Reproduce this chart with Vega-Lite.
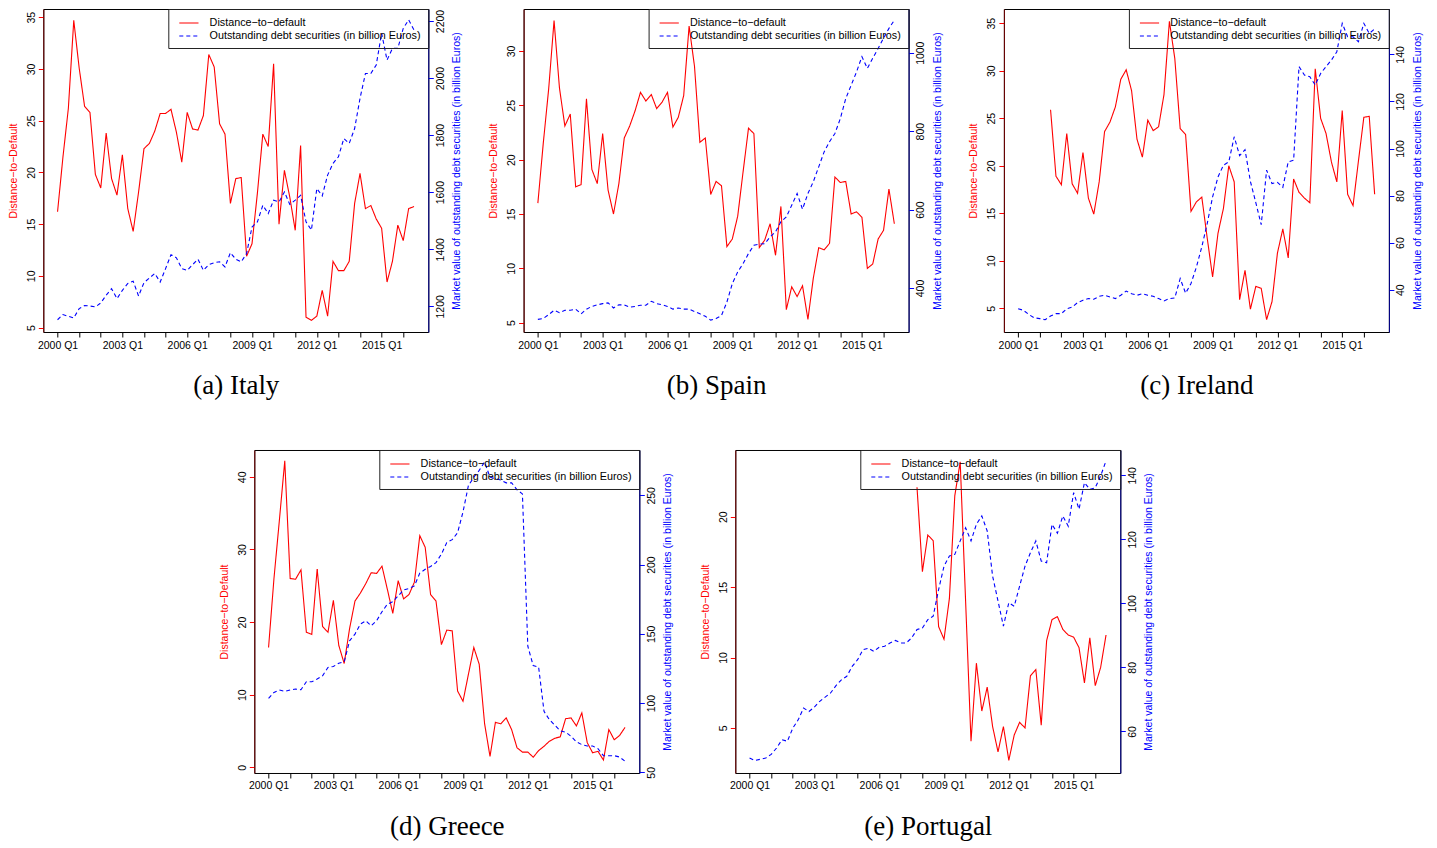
{
  "$schema": "https://vega.github.io/schema/vega-lite/v6.json",
  "padding": {"left": 7.3, "top": 8, "right": 5, "bottom": 5},
  "datasets": {
    "d": [
      {"c":"I","i":0,"d":16.2,"m":1153},{"c":"I","i":1,"d":21.5,"m":1171},{"c":"I","i":2,"d":26.2,"m":1165},{"c":"I","i":3,"d":34.7,"m":1159},{"c":"I","i":4,"d":30.1,"m":1192},{"c":"I","i":5,"d":26.4,"m":1203},{"c":"I","i":6,"d":25.8,"m":1201},{"c":"I","i":7,"d":19.8,"m":1198},{"c":"I","i":8,"d":18.5,"m":1212},{"c":"I","i":9,"d":23.8,"m":1239},{"c":"I","i":10,"d":19.4,"m":1262},{"c":"I","i":11,"d":17.8,"m":1227},{"c":"I","i":12,"d":21.7,"m":1256},{"c":"I","i":13,"d":16.5,"m":1280},{"c":"I","i":14,"d":14.3,"m":1288},{"c":"I","i":15,"d":18.1,"m":1236},{"c":"I","i":16,"d":22.3,"m":1283},{"c":"I","i":17,"d":22.8,"m":1299},{"c":"I","i":18,"d":24.0,"m":1315},{"c":"I","i":19,"d":25.7,"m":1285},{"c":"I","i":20,"d":25.7,"m":1332},{"c":"I","i":21,"d":26.1,"m":1381},{"c":"I","i":22,"d":23.9,"m":1370},{"c":"I","i":23,"d":21.0,"m":1332},{"c":"I","i":24,"d":25.8,"m":1326},{"c":"I","i":25,"d":24.2,"m":1346},{"c":"I","i":26,"d":24.1,"m":1365},{"c":"I","i":27,"d":25.5,"m":1326},{"c":"I","i":28,"d":31.4,"m":1346},{"c":"I","i":29,"d":30.2,"m":1353},{"c":"I","i":30,"d":24.7,"m":1356},{"c":"I","i":31,"d":23.7,"m":1338},{"c":"I","i":32,"d":17.0,"m":1388},{"c":"I","i":33,"d":19.4,"m":1365},{"c":"I","i":34,"d":19.5,"m":1356},{"c":"I","i":35,"d":11.9,"m":1385},{"c":"I","i":36,"d":13.1,"m":1478},{"c":"I","i":37,"d":18.0,"m":1496},{"c":"I","i":38,"d":23.7,"m":1554},{"c":"I","i":39,"d":22.5,"m":1525},{"c":"I","i":40,"d":30.5,"m":1572},{"c":"I","i":41,"d":15.0,"m":1566},{"c":"I","i":42,"d":20.2,"m":1601},{"c":"I","i":43,"d":17.6,"m":1557},{"c":"I","i":44,"d":14.4,"m":1572},{"c":"I","i":45,"d":22.6,"m":1589},{"c":"I","i":46,"d":6.0,"m":1496},{"c":"I","i":47,"d":5.7,"m":1467},{"c":"I","i":48,"d":6.1,"m":1613},{"c":"I","i":49,"d":8.6,"m":1587},{"c":"I","i":50,"d":6.1,"m":1660},{"c":"I","i":51,"d":11.4,"m":1701},{"c":"I","i":52,"d":10.5,"m":1724},{"c":"I","i":53,"d":10.5,"m":1788},{"c":"I","i":54,"d":11.4,"m":1771},{"c":"I","i":55,"d":17.0,"m":1823},{"c":"I","i":56,"d":19.9,"m":1929},{"c":"I","i":57,"d":16.5,"m":2016},{"c":"I","i":58,"d":16.8,"m":2016},{"c":"I","i":59,"d":15.5,"m":2046},{"c":"I","i":60,"d":14.6,"m":2157},{"c":"I","i":61,"d":9.4,"m":2063},{"c":"I","i":62,"d":11.4,"m":2104},{"c":"I","i":63,"d":14.9,"m":2104},{"c":"I","i":64,"d":13.4,"m":2174},{"c":"I","i":65,"d":16.5,"m":2204},{"c":"I","i":66,"d":16.7,"m":2168},
      {"c":"S","i":0,"d":16.0,"m":320},{"c":"S","i":1,"d":21.5,"m":322},{"c":"S","i":2,"d":26.5,"m":332},{"c":"S","i":3,"d":32.8,"m":343},{"c":"S","i":4,"d":26.6,"m":337},{"c":"S","i":5,"d":23.1,"m":343},{"c":"S","i":6,"d":24.2,"m":343},{"c":"S","i":7,"d":17.5,"m":346},{"c":"S","i":8,"d":17.7,"m":334},{"c":"S","i":9,"d":25.6,"m":346},{"c":"S","i":10,"d":19.1,"m":353},{"c":"S","i":11,"d":17.8,"m":357},{"c":"S","i":12,"d":22.4,"m":360},{"c":"S","i":13,"d":17.2,"m":362},{"c":"S","i":14,"d":15.0,"m":349},{"c":"S","i":15,"d":17.8,"m":357},{"c":"S","i":16,"d":22.0,"m":357},{"c":"S","i":17,"d":23.1,"m":351},{"c":"S","i":18,"d":24.5,"m":353},{"c":"S","i":19,"d":26.2,"m":356},{"c":"S","i":20,"d":25.4,"m":356},{"c":"S","i":21,"d":26.0,"m":366},{"c":"S","i":22,"d":24.7,"m":360},{"c":"S","i":23,"d":25.3,"m":357},{"c":"S","i":24,"d":26.2,"m":353},{"c":"S","i":25,"d":23.0,"m":346},{"c":"S","i":26,"d":23.9,"m":349},{"c":"S","i":27,"d":25.9,"m":346},{"c":"S","i":28,"d":32.3,"m":346},{"c":"S","i":29,"d":28.6,"m":340},{"c":"S","i":30,"d":21.6,"m":334},{"c":"S","i":31,"d":22.0,"m":328},{"c":"S","i":32,"d":16.8,"m":318},{"c":"S","i":33,"d":18.0,"m":322},{"c":"S","i":34,"d":17.6,"m":330},{"c":"S","i":35,"d":12.0,"m":364},{"c":"S","i":36,"d":12.7,"m":411},{"c":"S","i":37,"d":14.8,"m":441},{"c":"S","i":38,"d":18.9,"m":462},{"c":"S","i":39,"d":22.9,"m":488},{"c":"S","i":40,"d":22.4,"m":509},{"c":"S","i":41,"d":11.9,"m":512},{"c":"S","i":42,"d":12.6,"m":513},{"c":"S","i":43,"d":14.1,"m":530},{"c":"S","i":44,"d":11.2,"m":543},{"c":"S","i":45,"d":15.7,"m":569},{"c":"S","i":46,"d":6.2,"m":581},{"c":"S","i":47,"d":8.3,"m":611},{"c":"S","i":48,"d":7.4,"m":641},{"c":"S","i":49,"d":8.4,"m":601},{"c":"S","i":50,"d":5.3,"m":641},{"c":"S","i":51,"d":9.1,"m":671},{"c":"S","i":52,"d":11.9,"m":709},{"c":"S","i":53,"d":11.7,"m":747},{"c":"S","i":54,"d":12.3,"m":773},{"c":"S","i":55,"d":18.4,"m":794},{"c":"S","i":56,"d":17.9,"m":832},{"c":"S","i":57,"d":18.0,"m":883},{"c":"S","i":58,"d":15.0,"m":917},{"c":"S","i":59,"d":15.2,"m":951},{"c":"S","i":60,"d":14.7,"m":990},{"c":"S","i":61,"d":10.0,"m":960},{"c":"S","i":62,"d":10.4,"m":986},{"c":"S","i":63,"d":12.7,"m":1011},{"c":"S","i":64,"d":13.5,"m":1037},{"c":"S","i":65,"d":17.3,"m":1062},{"c":"S","i":66,"d":14.1,"m":1083},
      {"c":"R","i":0,"d":null,"m":31.9},{"c":"R","i":1,"d":null,"m":31.2},{"c":"R","i":2,"d":null,"m":29.4},{"c":"R","i":3,"d":null,"m":28.0},{"c":"R","i":4,"d":null,"m":27.7},{"c":"R","i":5,"d":null,"m":27.2},{"c":"R","i":6,"d":25.9,"m":28.8},{"c":"R","i":7,"d":18.9,"m":29.8},{"c":"R","i":8,"d":18.0,"m":29.8},{"c":"R","i":9,"d":23.4,"m":31.9},{"c":"R","i":10,"d":18.1,"m":32.6},{"c":"R","i":11,"d":17.1,"m":34.5},{"c":"R","i":12,"d":21.4,"m":35.5},{"c":"R","i":13,"d":16.6,"m":36.2},{"c":"R","i":14,"d":14.9,"m":35.9},{"c":"R","i":15,"d":18.3,"m":37.2},{"c":"R","i":16,"d":23.6,"m":37.6},{"c":"R","i":17,"d":24.6,"m":36.9},{"c":"R","i":18,"d":26.2,"m":36.2},{"c":"R","i":19,"d":29.1,"m":37.6},{"c":"R","i":20,"d":30.1,"m":39.4},{"c":"R","i":21,"d":27.9,"m":38.3},{"c":"R","i":22,"d":22.8,"m":37.6},{"c":"R","i":23,"d":20.9,"m":38.3},{"c":"R","i":24,"d":24.8,"m":37.6},{"c":"R","i":25,"d":23.7,"m":37.2},{"c":"R","i":26,"d":24.1,"m":36.2},{"c":"R","i":27,"d":27.5,"m":35.2},{"c":"R","i":28,"d":35.2,"m":36.2},{"c":"R","i":29,"d":31.3,"m":36.5},{"c":"R","i":30,"d":23.9,"m":44.7},{"c":"R","i":31,"d":23.3,"m":38.5},{"c":"R","i":32,"d":15.2,"m":42.6},{"c":"R","i":33,"d":16.2,"m":49.6},{"c":"R","i":34,"d":16.7,"m":58.2},{"c":"R","i":35,"d":12.4,"m":68.1},{"c":"R","i":36,"d":8.3,"m":79.4},{"c":"R","i":37,"d":12.9,"m":87.9},{"c":"R","i":38,"d":15.5,"m":92.9},{"c":"R","i":39,"d":20.0,"m":94.3},{"c":"R","i":40,"d":18.3,"m":105.0},{"c":"R","i":41,"d":5.9,"m":97.0},{"c":"R","i":42,"d":9.0,"m":99.5},{"c":"R","i":43,"d":4.9,"m":86.0},{"c":"R","i":44,"d":7.3,"m":77.0},{"c":"R","i":45,"d":7.1,"m":67.6},{"c":"R","i":46,"d":3.8,"m":90.8},{"c":"R","i":47,"d":5.7,"m":85.1},{"c":"R","i":48,"d":10.8,"m":85.6},{"c":"R","i":49,"d":13.35,"m":83.5},{"c":"R","i":50,"d":10.3,"m":94.3},{"c":"R","i":51,"d":18.6,"m":95.0},{"c":"R","i":52,"d":17.2,"m":134.8},{"c":"R","i":53,"d":16.6,"m":131.2},{"c":"R","i":54,"d":16.1,"m":130.5},{"c":"R","i":55,"d":30.2,"m":127.0},{"c":"R","i":56,"d":25.0,"m":131.9},{"c":"R","i":57,"d":23.4,"m":134.8},{"c":"R","i":58,"d":20.4,"m":137.6},{"c":"R","i":59,"d":18.3,"m":141.1},{"c":"R","i":60,"d":25.8,"m":153.2},{"c":"R","i":61,"d":17.0,"m":147.5},{"c":"R","i":62,"d":15.8,"m":147.5},{"c":"R","i":63,"d":20.5,"m":145.4},{"c":"R","i":64,"d":25.1,"m":153.2},{"c":"R","i":65,"d":25.2,"m":148.9},{"c":"R","i":66,"d":17.0,"m":150.8},
      {"c":"G","i":0,"d":16.5,"m":103.4},{"c":"G","i":1,"d":26.0,"m":107.7},{"c":"G","i":2,"d":34.0,"m":109.4},{"c":"G","i":3,"d":42.2,"m":108.4},{"c":"G","i":4,"d":26.0,"m":109.4},{"c":"G","i":5,"d":25.9,"m":110.1},{"c":"G","i":6,"d":27.2,"m":109.6},{"c":"G","i":7,"d":18.6,"m":115.4},{"c":"G","i":8,"d":18.3,"m":115.4},{"c":"G","i":9,"d":27.3,"m":117.3},{"c":"G","i":10,"d":19.4,"m":119.7},{"c":"G","i":11,"d":18.6,"m":125.7},{"c":"G","i":12,"d":23.0,"m":126.4},{"c":"G","i":13,"d":16.8,"m":128.8},{"c":"G","i":14,"d":14.3,"m":129.8},{"c":"G","i":15,"d":19.1,"m":144.9},{"c":"G","i":16,"d":22.9,"m":149.8},{"c":"G","i":17,"d":24.0,"m":157.0},{"c":"G","i":18,"d":25.3,"m":159.4},{"c":"G","i":19,"d":26.8,"m":155.8},{"c":"G","i":20,"d":26.7,"m":159.4},{"c":"G","i":21,"d":27.7,"m":165.9},{"c":"G","i":22,"d":24.5,"m":171.4},{"c":"G","i":23,"d":21.2,"m":173.1},{"c":"G","i":24,"d":25.7,"m":177.4},{"c":"G","i":25,"d":23.2,"m":181.7},{"c":"G","i":26,"d":23.8,"m":182.7},{"c":"G","i":27,"d":25.5,"m":184.6},{"c":"G","i":28,"d":31.9,"m":193.8},{"c":"G","i":29,"d":30.3,"m":196.6},{"c":"G","i":30,"d":23.8,"m":198.6},{"c":"G","i":31,"d":22.9,"m":201.4},{"c":"G","i":32,"d":16.9,"m":207.5},{"c":"G","i":33,"d":18.9,"m":215.9},{"c":"G","i":34,"d":18.8,"m":218},{"c":"G","i":35,"d":10.5,"m":223},{"c":"G","i":36,"d":9.1,"m":238},{"c":"G","i":37,"d":12.8,"m":257},{"c":"G","i":38,"d":16.5,"m":263},{"c":"G","i":39,"d":14.2,"m":268},{"c":"G","i":40,"d":6.0,"m":274},{"c":"G","i":41,"d":1.5,"m":263},{"c":"G","i":42,"d":6.2,"m":262},{"c":"G","i":43,"d":6.0,"m":261},{"c":"G","i":44,"d":6.8,"m":259},{"c":"G","i":45,"d":5.2,"m":259},{"c":"G","i":46,"d":2.7,"m":254},{"c":"G","i":47,"d":2.1,"m":251},{"c":"G","i":48,"d":2.1,"m":141},{"c":"G","i":49,"d":1.4,"m":127},{"c":"G","i":50,"d":2.3,"m":126},{"c":"G","i":51,"d":2.9,"m":94},{"c":"G","i":52,"d":3.6,"m":88},{"c":"G","i":53,"d":4.0,"m":84},{"c":"G","i":54,"d":4.2,"m":80},{"c":"G","i":55,"d":6.7,"m":79},{"c":"G","i":56,"d":6.8,"m":76},{"c":"G","i":57,"d":5.7,"m":72},{"c":"G","i":58,"d":7.5,"m":70},{"c":"G","i":59,"d":3.4,"m":69},{"c":"G","i":60,"d":2.0,"m":69},{"c":"G","i":61,"d":2.2,"m":67},{"c":"G","i":62,"d":1.0,"m":62},{"c":"G","i":63,"d":5.2,"m":62},{"c":"G","i":64,"d":3.8,"m":62},{"c":"G","i":65,"d":4.4,"m":61},{"c":"G","i":66,"d":5.5,"m":58},
      {"c":"P","i":0,"d":null,"m":51.7},{"c":"P","i":1,"d":null,"m":50.9},{"c":"P","i":2,"d":null,"m":51.3},{"c":"P","i":3,"d":null,"m":51.7},{"c":"P","i":4,"d":null,"m":52.8},{"c":"P","i":5,"d":null,"m":54.8},{"c":"P","i":6,"d":null,"m":57.4},{"c":"P","i":7,"d":null,"m":56.9},{"c":"P","i":8,"d":null,"m":61.0},{"c":"P","i":9,"d":null,"m":63.6},{"c":"P","i":10,"d":null,"m":67.3},{"c":"P","i":11,"d":null,"m":66.2},{"c":"P","i":12,"d":null,"m":67.6},{"c":"P","i":13,"d":null,"m":69.4},{"c":"P","i":14,"d":null,"m":70.7},{"c":"P","i":15,"d":null,"m":72.0},{"c":"P","i":16,"d":null,"m":74.3},{"c":"P","i":17,"d":null,"m":76.1},{"c":"P","i":18,"d":null,"m":77.2},{"c":"P","i":19,"d":null,"m":80.3},{"c":"P","i":20,"d":null,"m":82.4},{"c":"P","i":21,"d":null,"m":85.5},{"c":"P","i":22,"d":null,"m":86.0},{"c":"P","i":23,"d":null,"m":85.0},{"c":"P","i":24,"d":null,"m":86.3},{"c":"P","i":25,"d":null,"m":86.6},{"c":"P","i":26,"d":null,"m":87.6},{"c":"P","i":27,"d":null,"m":88.4},{"c":"P","i":28,"d":null,"m":87.6},{"c":"P","i":29,"d":null,"m":87.6},{"c":"P","i":30,"d":null,"m":89.2},{"c":"P","i":31,"d":22.1,"m":91.8},{"c":"P","i":32,"d":16.1,"m":92.3},{"c":"P","i":33,"d":18.7,"m":94.9},{"c":"P","i":34,"d":18.3,"m":96.0},{"c":"P","i":35,"d":12.2,"m":104.3},{"c":"P","i":36,"d":11.3,"m":111.6},{"c":"P","i":37,"d":14.2,"m":114.8},{"c":"P","i":38,"d":21.5,"m":115.3},{"c":"P","i":39,"d":23.9,"m":119.5},{"c":"P","i":40,"d":14.0,"m":123.6},{"c":"P","i":41,"d":4.05,"m":119.5},{"c":"P","i":42,"d":9.6,"m":124.7},{"c":"P","i":43,"d":6.2,"m":127.3},{"c":"P","i":44,"d":7.9,"m":122.6},{"c":"P","i":45,"d":5.1,"m":108.5},{"c":"P","i":46,"d":3.3,"m":100.7},{"c":"P","i":47,"d":5.1,"m":92.9},{"c":"P","i":48,"d":2.7,"m":100.2},{"c":"P","i":49,"d":4.5,"m":99.1},{"c":"P","i":50,"d":5.4,"m":105.4},{"c":"P","i":51,"d":5.0,"m":111.6},{"c":"P","i":52,"d":8.7,"m":115.8},{"c":"P","i":53,"d":9.15,"m":119.5},{"c":"P","i":54,"d":5.2,"m":113.2},{"c":"P","i":55,"d":11.2,"m":112.7},{"c":"P","i":56,"d":12.7,"m":124.7},{"c":"P","i":57,"d":12.9,"m":121.9},{"c":"P","i":58,"d":12.0,"m":127.3},{"c":"P","i":59,"d":11.6,"m":124.1},{"c":"P","i":60,"d":11.45,"m":134.6},{"c":"P","i":61,"d":10.7,"m":129.4},{"c":"P","i":62,"d":8.2,"m":137.7},{"c":"P","i":63,"d":11.4,"m":135.6},{"c":"P","i":64,"d":8.0,"m":136.1},{"c":"P","i":65,"d":9.3,"m":139.8},{"c":"P","i":66,"d":11.6,"m":144.5}
    ]
  },
  "vconcat": [
    {
      "hconcat": [
        {
          "width": 385, "height": 323,
          "data": {"name": "d"},
          "transform": [{"filter": "datum.c === 'I'"}],
          "encoding": {"x": {"field": "i", "type": "quantitative", "scale": {"domain": [-2.64, 68.64], "nice": false, "zero": false}, "axis": {"title": "(a) Italy", "values": [0,4,8,12,16,20,24,28,32,36,40,44,48,52,56,60,64], "labelExpr": "datum.value % 12 === 0 ? (2000 + datum.value / 4) + ' Q1' : ''"}}},
          "layer": [
            {"mark": {"type": "line", "strokeWidth": 1.1, "clip": true},
             "encoding": {
               "y": {"field": "d", "type": "quantitative", "scale": {"domain": [4.57, 35.8], "nice": false, "zero": false}, "axis": {"orient": "left", "values": [5,10,15,20,25,30,35], "title": "Distance−to−Default"}},
               "color": {"datum": "Distance−to−default", "scale": {"domain": ["Distance−to−default", "Outstanding debt securities (in billion Euros)"], "range": ["#ff0000", "#0000ff"]}, "legend": {"title": null}},
               "strokeDash": {"datum": "Distance−to−default", "scale": {"domain": ["Distance−to−default", "Outstanding debt securities (in billion Euros)"], "range": [[1,0],[4,3]]}, "legend": {"title": null}}
             }},
            {"mark": {"type": "line", "strokeWidth": 1.1, "clip": true},
             "encoding": {
               "y": {"field": "m", "type": "quantitative", "scale": {"domain": [1110, 2242], "nice": false, "zero": false}, "axis": {"orient": "right", "format": "d", "values": [1200,1400,1600,1800,2000,2200], "title": "Market value of outstanding debt securities (in billion Euros)"}},
               "color": {"datum": "Outstanding debt securities (in billion Euros)"},
               "strokeDash": {"datum": "Outstanding debt securities (in billion Euros)"}
             }}
          ],
          "resolve": {"scale": {"y": "independent"}}
        },
        {
          "width": 385, "height": 323,
          "data": {"name": "d"},
          "transform": [{"filter": "datum.c === 'S'"}],
          "encoding": {"x": {"field": "i", "type": "quantitative", "scale": {"domain": [-2.64, 68.64], "nice": false, "zero": false}, "axis": {"title": "(b) Spain", "values": [0,4,8,12,16,20,24,28,32,36,40,44,48,52,56,60,64], "labelExpr": "datum.value % 12 === 0 ? (2000 + datum.value / 4) + ' Q1' : ''"}}},
          "layer": [
            {"mark": {"type": "line", "strokeWidth": 1.1, "clip": true},
             "encoding": {
               "y": {"field": "d", "type": "quantitative", "scale": {"domain": [4.14, 33.87], "nice": false, "zero": false}, "axis": {"orient": "left", "values": [5,10,15,20,25,30], "title": "Distance−to−Default"}},
               "color": {"datum": "Distance−to−default", "scale": {"domain": ["Distance−to−default", "Outstanding debt securities (in billion Euros)"], "range": ["#ff0000", "#0000ff"]}, "legend": {"title": null}},
               "strokeDash": {"datum": "Distance−to−default", "scale": {"domain": ["Distance−to−default", "Outstanding debt securities (in billion Euros)"], "range": [[1,0],[4,3]]}, "legend": {"title": null}}
             }},
            {"mark": {"type": "line", "strokeWidth": 1.1, "clip": true},
             "encoding": {
               "y": {"field": "m", "type": "quantitative", "scale": {"domain": [287.7, 1111.5], "nice": false, "zero": false}, "axis": {"orient": "right", "format": "d", "values": [400,600,800,1000], "title": "Market value of outstanding debt securities (in billion Euros)"}},
               "color": {"datum": "Outstanding debt securities (in billion Euros)"},
               "strokeDash": {"datum": "Outstanding debt securities (in billion Euros)"}
             }}
          ],
          "resolve": {"scale": {"y": "independent"}}
        },
        {
          "width": 385, "height": 323,
          "data": {"name": "d"},
          "transform": [{"filter": "datum.c === 'R'"}],
          "encoding": {"x": {"field": "i", "type": "quantitative", "scale": {"domain": [-2.64, 68.64], "nice": false, "zero": false}, "axis": {"title": "(c) Ireland", "values": [0,4,8,12,16,20,24,28,32,36,40,44,48,52,56,60,64], "labelExpr": "datum.value % 12 === 0 ? (2000 + datum.value / 4) + ' Q1' : ''"}}},
          "layer": [
            {"mark": {"type": "line", "strokeWidth": 1.1, "clip": true},
             "encoding": {
               "y": {"field": "d", "type": "quantitative", "scale": {"domain": [2.5, 36.5], "nice": false, "zero": false}, "axis": {"orient": "left", "values": [5,10,15,20,25,30,35], "title": "Distance−to−Default"}},
               "color": {"datum": "Distance−to−default", "scale": {"domain": ["Distance−to−default", "Outstanding debt securities (in billion Euros)"], "range": ["#ff0000", "#0000ff"]}, "legend": {"title": null}},
               "strokeDash": {"datum": "Distance−to−default", "scale": {"domain": ["Distance−to−default", "Outstanding debt securities (in billion Euros)"], "range": [[1,0],[4,3]]}, "legend": {"title": null}}
             }},
            {"mark": {"type": "line", "strokeWidth": 1.1, "clip": true},
             "encoding": {
               "y": {"field": "m", "type": "quantitative", "scale": {"domain": [22, 159.3], "nice": false, "zero": false}, "axis": {"orient": "right", "format": "d", "values": [40,60,80,100,120,140], "title": "Market value of outstanding debt securities (in billion Euros)"}},
               "color": {"datum": "Outstanding debt securities (in billion Euros)"},
               "strokeDash": {"datum": "Outstanding debt securities (in billion Euros)"}
             }}
          ],
          "resolve": {"scale": {"y": "independent"}}
        }
      ],
      "spacing": 24.3,
      "resolve": {"scale": {"color": "independent", "strokeDash": "independent"}}
    },
    {
      "hconcat": [
        {"width": 150, "height": 10, "data": {"values": []}, "mark": "point", "view": {"stroke": null, "fill": "#ffffff"}},
        {
          "width": 385, "height": 323,
          "data": {"name": "d"},
          "transform": [{"filter": "datum.c === 'G'"}],
          "encoding": {"x": {"field": "i", "type": "quantitative", "scale": {"domain": [-2.64, 68.64], "nice": false, "zero": false}, "axis": {"title": "(d) Greece", "values": [0,4,8,12,16,20,24,28,32,36,40,44,48,52,56,60,64], "labelExpr": "datum.value % 12 === 0 ? (2000 + datum.value / 4) + ' Q1' : ''"}}},
          "layer": [
            {"mark": {"type": "line", "strokeWidth": 1.1, "clip": true},
             "encoding": {
               "y": {"field": "d", "type": "quantitative", "scale": {"domain": [-0.78, 43.7], "nice": false, "zero": false}, "axis": {"orient": "left", "values": [0,10,20,30,40], "title": "Distance−to−Default"}},
               "color": {"datum": "Distance−to−default", "scale": {"domain": ["Distance−to−default", "Outstanding debt securities (in billion Euros)"], "range": ["#ff0000", "#0000ff"]}, "legend": {"title": null}},
               "strokeDash": {"datum": "Distance−to−default", "scale": {"domain": ["Distance−to−default", "Outstanding debt securities (in billion Euros)"], "range": [[1,0],[4,3]]}, "legend": {"title": null}}
             }},
            {"mark": {"type": "line", "strokeWidth": 1.1, "clip": true},
             "encoding": {
               "y": {"field": "m", "type": "quantitative", "scale": {"domain": [49.5, 282.7], "nice": false, "zero": false}, "axis": {"orient": "right", "format": "d", "values": [50,100,150,200,250], "title": "Market value of outstanding debt securities (in billion Euros)"}},
               "color": {"datum": "Outstanding debt securities (in billion Euros)"},
               "strokeDash": {"datum": "Outstanding debt securities (in billion Euros)"}
             }}
          ],
          "resolve": {"scale": {"y": "independent"}}
        },
        {
          "width": 385, "height": 323,
          "data": {"name": "d"},
          "transform": [{"filter": "datum.c === 'P'"}],
          "encoding": {"x": {"field": "i", "type": "quantitative", "scale": {"domain": [-2.64, 68.64], "nice": false, "zero": false}, "axis": {"title": "(e) Portugal", "values": [0,4,8,12,16,20,24,28,32,36,40,44,48,52,56,60,64], "labelExpr": "datum.value % 12 === 0 ? (2000 + datum.value / 4) + ' Q1' : ''"}}},
          "layer": [
            {"mark": {"type": "line", "strokeWidth": 1.1, "clip": true},
             "encoding": {
               "y": {"field": "d", "type": "quantitative", "scale": {"domain": [1.8, 24.74], "nice": false, "zero": false}, "axis": {"orient": "left", "values": [5,10,15,20], "title": "Distance−to−Default"}},
               "color": {"datum": "Distance−to−default", "scale": {"domain": ["Distance−to−default", "Outstanding debt securities (in billion Euros)"], "range": ["#ff0000", "#0000ff"]}, "legend": {"title": null}},
               "strokeDash": {"datum": "Distance−to−default", "scale": {"domain": ["Distance−to−default", "Outstanding debt securities (in billion Euros)"], "range": [[1,0],[4,3]]}, "legend": {"title": null}}
             }},
            {"mark": {"type": "line", "strokeWidth": 1.1, "clip": true},
             "encoding": {
               "y": {"field": "m", "type": "quantitative", "scale": {"domain": [47, 147.9], "nice": false, "zero": false}, "axis": {"orient": "right", "format": "d", "values": [60,80,100,120,140], "title": "Market value of outstanding debt securities (in billion Euros)"}},
               "color": {"datum": "Outstanding debt securities (in billion Euros)"},
               "strokeDash": {"datum": "Outstanding debt securities (in billion Euros)"}
             }}
          ],
          "resolve": {"scale": {"y": "independent"}}
        }
      ],
      "spacing": 25,
      "resolve": {"scale": {"color": "independent", "strokeDash": "independent"}}
    }
  ],
  "spacing": 50,
  "resolve": {"scale": {"color": "independent", "strokeDash": "independent"}},
  "config": {
    "font": "Liberation Sans",
    "background": "#ffffff",
    "view": {"stroke": "#000000", "strokeWidth": 1},
    "axis": {"grid": false, "labelFont": "Liberation Sans", "labelFontSize": 10.5, "labelColor": "#000000", "titleFont": "Liberation Sans", "titleFontSize": 10.5, "titleFontWeight": "normal", "tickSize": 5, "tickWidth": 1, "labelPadding": 2},
    "axisX": {"domain": false, "tickColor": "#000000", "labelPadding": 3, "titleFont": "Liberation Serif", "titleFontSize": 27, "titleColor": "#000000", "titlePadding": 22, "labelFlush": false, "labelOverlap": false},
    "axisLeft": {"labelAngle": -90, "titleColor": "#ff0000", "tickColor": "#ff0000", "domainColor": "#700000", "titlePadding": 8},
    "axisRight": {"labelAngle": -90, "titleAngle": 270, "titleBaseline": "top", "titleColor": "#0000ff", "tickColor": "#0000ff", "domainColor": "#000090", "titlePadding": 6},
    "legend": {"orient": "top-right", "offset": 0, "padding": 7, "fillColor": "transparent", "strokeColor": "#222222", "labelFont": "Liberation Sans", "labelFontSize": 10.8, "labelLimit": 400, "symbolType": "M-1.6,0H1.6", "symbolSize": 144, "symbolStrokeWidth": 1.2, "rowPadding": 1, "labelOffset": 13.7, "symbolOffset": 6.6}
  }
}
